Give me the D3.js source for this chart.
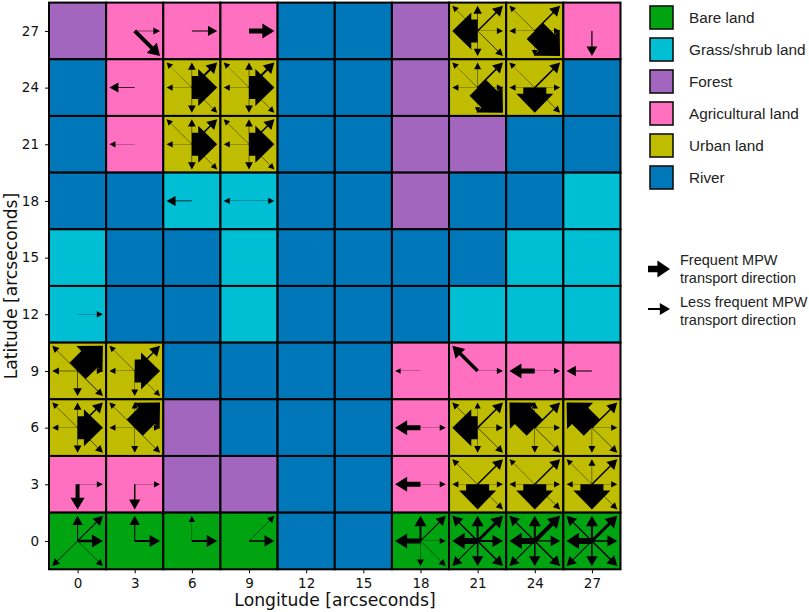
<!DOCTYPE html>
<html>
<head>
<meta charset="utf-8">
<script src="https://cdn.jsdelivr.net/npm/d3@7"></script>
<style>
	html, body { margin: 0; padding: 0; background: #fff; }
	svg { display: block; }
	.tick text { font-family: "DejaVu Sans", sans-serif; font-size: 13.5px; fill: #111; }
	.axis-label { font-family: "DejaVu Sans", sans-serif; font-size: 17.2px; fill: #111; }
	.legend-label { font-family: "Liberation Sans", Arial, sans-serif; font-size: 15.3px; fill: #222; }
</style>
</head>
<body>
<div id="chart"></div>
<script>
// DATA
const lons = [0, 3, 6, 9, 12, 15, 18, 21, 24, 27];
const lats = [27, 24, 21, 18, 15, 12, 9, 6, 3, 0];
const landNames = ['Bare land', 'Grass/shrub land', 'Forest', 'Agricultural land', 'Urban land', 'River'];
const landColours = ['#00a310', '#00bfd4', '#a266bf', '#ff70c0', '#c0bc00', '#0077b8'];

// land class index per cell, one row per latitude (top to bottom)
const landRows = [
	[2, 3, 3, 3, 5, 5, 2, 4, 4, 3],
	[5, 3, 4, 4, 5, 5, 2, 4, 4, 5],
	[5, 3, 4, 4, 5, 5, 2, 2, 5, 5],
	[5, 5, 1, 1, 5, 5, 2, 5, 5, 1],
	[1, 5, 5, 1, 5, 5, 5, 5, 1, 1],
	[1, 5, 5, 1, 5, 5, 5, 1, 1, 1],
	[4, 4, 5, 5, 5, 5, 3, 3, 3, 3],
	[4, 4, 2, 5, 5, 5, 3, 4, 4, 4],
	[3, 3, 2, 2, 5, 5, 3, 4, 4, 4],
	[0, 0, 0, 0, 5, 5, 0, 0, 0, 0]
];

// eight transport directions, east first and going anticlockwise
const directions = [[1, 0], [1, 1], [0, 1], [-1, 1], [-1, 0], [-1, -1], [0, -1], [1, -1]];

// [lon, lat, E, NE, N, NW, W, SW, S, SE] shaft weights
const transport = [
	[3, 27, .4, 0, 0, 0, 0, 0, 0, 4],
	[6, 27, 1, 0, 0, 0, 0, 0, 0, 0],
	[9, 27, 5, 0, 0, 0, 0, 0, 0, 0],
	[21, 27, .3, 1.5, .6, .3, 23, 0, .5, .5],
	[24, 27, .3, 1.5, 0, .3, .3, 0, .3, 23],
	[27, 27, 0, 0, 0, 0, 0, 0, 1.2, 0],
	[3, 24, 0, 0, 0, 0, .8, 0, 0, 0],
	[6, 24, 23, 2, .5, .3, .3, 0, .5, .3],
	[9, 24, 23, 2, .5, .3, .3, 0, .5, .3],
	[21, 24, .3, 1.5, .4, .3, .3, 0, .2, 23],
	[24, 24, .3, 1.5, 0, .3, .3, 0, 23, .4],
	[3, 21, 0, 0, 0, 0, .3, 0, 0, 0],
	[6, 21, 23, 1.5, .5, .3, .3, 0, .5, .3],
	[9, 21, 23, 1.5, .5, .3, .3, 0, .5, .3],
	[6, 18, 0, 0, 0, 0, .8, 0, 0, 0],
	[9, 18, .3, 0, 0, 0, .3, 0, 0, 0],
	[0, 12, .3, 0, 0, 0, 0, 0, 0, 0],
	[0, 9, .3, 23, 0, .4, .4, 0, .6, .5],
	[3, 9, 23, 1.5, 0, .3, .3, 0, .4, .3],
	[18, 9, 0, 0, 0, 0, .2, 0, 0, 0],
	[21, 9, .3, 0, 0, 3.5, 0, 0, 0, 0],
	[24, 9, .3, 0, 0, 0, 5, 0, 0, 0],
	[27, 9, 0, 0, 0, 0, 1, 0, 0, 0],
	[0, 6, 23, 1.5, .5, .3, .3, 0, .5, .5],
	[3, 6, .3, 23, .3, .3, .3, 0, .4, .4],
	[18, 6, .3, 0, 0, 0, 5, 0, 0, 0],
	[21, 6, .4, 1.5, .3, .4, 23, 0, .4, .5],
	[24, 6, .3, 1.5, .3, 23, 0, 0, .4, .5],
	[27, 6, .3, 1.5, 0, 23, 0, 0, .4, .5],
	[0, 3, .3, 0, 0, 0, 0, 0, 4, 0],
	[3, 3, .3, 0, 0, 0, 0, 0, 1.5, 0],
	[18, 3, .3, 0, 0, 0, 5, 0, 0, 0],
	[21, 3, .3, 1.5, 0, .4, .3, 0, 23, .4],
	[24, 3, .3, 1.5, 0, .3, .3, 0, 23, .4],
	[27, 3, .3, 1.5, .4, .3, .3, 0, 23, .4],
	[0, 0, 2.5, 1, 1, 0, 0, .5, 0, .4],
	[3, 0, 2, 0, 1, 0, 0, 0, 0, 0],
	[6, 0, 2, 0, .3, 0, 0, 0, 0, 0],
	[9, 0, 1.5, .4, 0, 0, 0, 0, 0, 0],
	[18, 0, .3, 1, 2, 0, 5, 0, .4, .4],
	[21, 0, 2, 3, 2, 1.5, 6, 1, 1.5, 1.5],
	[24, 0, 1.2, 4, 2, 1.2, 6, 1, 1.5, 1.5],
	[27, 0, 1.5, 3, 2, 1.2, 6, 1, 1.5, 1.5]
];

const arrowKeyLabels = [
	['Frequent MPW', 'transport direction'],
	['Less frequent MPW', 'transport direction']
];
const arrowKeyWeights = [6.5, 1.8];
const xTicks = lons;
const yTicks = lons;


// THE GOOD STUFF
const width = 809;
const height = 612;
const reach = 1.33; // arrow length in arcseconds
const margin = {
	top: 2.6,
	bottom: 569.3,
	left: 49,
	right: 620.5
};

const xScale = d3.scaleLinear().domain([-1.5, 28.5]).range([margin.left, margin.right]);
const yScale = d3.scaleLinear().domain([-1.5, 28.5]).range([margin.bottom, margin.top]);
const headWidth = d3.scaleLinear().domain([.2, .8, 2.5, 5, 23]).range([5.5, 10, 13, 15, 37]);
const headLength = d3.scaleLinear().domain([.2, .8, 2.5, 5, 23]).range([5.5, 9, 11, 12, 19]);

const svg = d3.select('#chart')
	.append('svg')
	.attr('width', width)
	.attr('height', height);


// FUNCTIONS
const arrowPath = (x0, y0, x1, y1, w) => {
	const len = Math.hypot(x1 - x0, y1 - y0);
	const ux = (x1 - x0) / len;
	const uy = (y1 - y0) / len;
	const hl = headLength(w);
	const hw = headWidth(w);
	const bx = x1 - ux * hl;
	const by = y1 - uy * hl;
	const pt = (px, py, side) => [px - uy * side, py + ux * side];
	return d3.line()([
		pt(x0, y0, w / 2),
		pt(bx, by, w / 2),
		pt(bx, by, hw / 2),
		[x1, y1],
		pt(bx, by, -hw / 2),
		pt(bx, by, -w / 2),
		pt(x0, y0, -w / 2)
	]) + 'Z';
};

const drawCells = () => {
	const cells = lats.flatMap((lat, r) => lons.map((lon, c) => ({lon, lat, land: landRows[r][c]})));
	svg.append('g')
		.attr('class', 'cells')
		.selectAll('rect')
		.data(cells)
		.join('rect')
		.attr('x', d => xScale(d.lon - 1.5))
		.attr('y', d => yScale(d.lat + 1.5))
		.attr('width', xScale(3) - xScale(0))
		.attr('height', yScale(0) - yScale(3))
		.attr('fill', d => landColours[d.land])
		.attr('stroke', '#000')
		.attr('stroke-width', 2);
};

const drawArrows = () => {
	const arrows = transport.flatMap(row => directions.map((dir, i) => ({
		lon: row[0],
		lat: row[1],
		dir,
		weight: row[i + 2]
	}))).filter(d => d.weight > 0);

	svg.append('g')
		.attr('class', 'arrows')
		.selectAll('path')
		.data(arrows)
		.join('path')
		.attr('fill', '#000')
		.attr('d', d => arrowPath(
			xScale(d.lon),
			yScale(d.lat),
			xScale(d.lon + d.dir[0] * reach),
			yScale(d.lat + d.dir[1] * reach),
			d.weight
		));
};

const drawAxes = () => {
	svg.append('g')
		.attr('transform', `translate(0, ${margin.bottom})`)
		.call(d3.axisBottom(xScale).tickValues(xTicks).tickSize(4).tickPadding(5).tickSizeOuter(0))
		.call(g => g.select('.domain').remove());

	svg.append('g')
		.attr('transform', `translate(${margin.left}, 0)`)
		.call(d3.axisLeft(yScale).tickValues(yTicks).tickSize(4).tickPadding(6).tickSizeOuter(0))
		.call(g => g.select('.domain').remove());

	svg.append('text')
		.attr('class', 'axis-label')
		.attr('x', 335)
		.attr('y', 606)
		.attr('text-anchor', 'middle')
		.text('Longitude [arcseconds]');

	svg.append('text')
		.attr('class', 'axis-label')
		.attr('transform', 'translate(17, 286) rotate(-90)')
		.attr('text-anchor', 'middle')
		.text('Latitude [arcseconds]');
};

const drawLegend = () => {
	const key = svg.append('g').attr('class', 'legend');

	key.selectAll('rect')
		.data(landNames)
		.join('rect')
		.attr('x', 650)
		.attr('y', (d, i) => 6 + i * 32)
		.attr('width', 23)
		.attr('height', 23)
		.attr('fill', (d, i) => landColours[i])
		.attr('stroke', '#111')
		.attr('stroke-width', 1.6);

	key.selectAll('text.land')
		.data(landNames)
		.join('text')
		.attr('class', 'land legend-label')
		.attr('x', 689)
		.attr('y', (d, i) => 23 + i * 32)
		.text(d => d);

	key.selectAll('path')
		.data(arrowKeyWeights)
		.join('path')
		.attr('fill', '#000')
		.attr('d', (w, i) => arrowPath(648, 269 + i * 40, 670, 269 + i * 40, w));

	arrowKeyLabels.forEach((lines, i) => {
		lines.forEach((line, j) => {
			key.append('text')
				.attr('class', 'legend-label')
				.attr('x', 680)
				.attr('y', 265 + i * 42 + j * 18)
				.style('font-size', '14.5px')
				.text(line);
		});
	});
};

drawCells();
drawArrows();
drawAxes();
drawLegend();
</script>
</body>
</html>
